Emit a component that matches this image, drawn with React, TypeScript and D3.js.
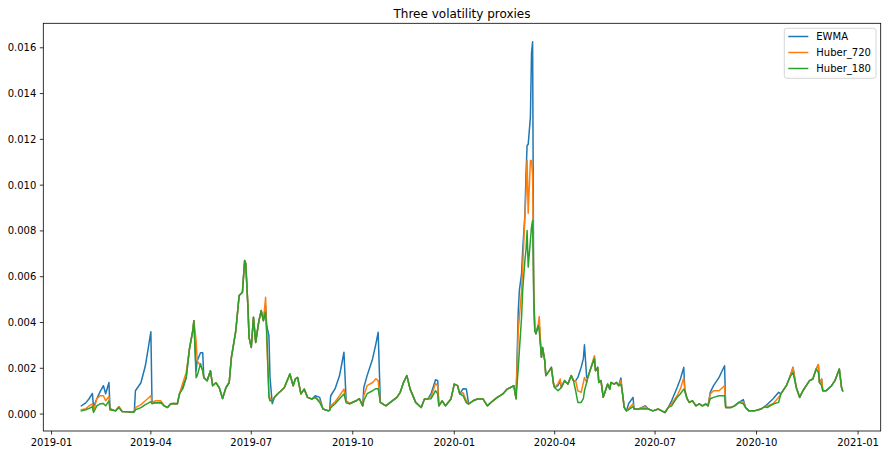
import React from "react";
import * as d3 from "d3";

const dates = [
  "2019-01-28","2019-02-01","2019-02-04","2019-02-07","2019-02-08","2019-02-11","2019-02-14","2019-02-17","2019-02-19","2019-02-22",
  "2019-02-23","2019-02-28","2019-03-03","2019-03-06","2019-03-11","2019-03-15","2019-03-17","2019-03-18","2019-03-23","2019-03-27",
  "2019-03-30","2019-04-01","2019-04-02","2019-04-05","2019-04-10","2019-04-13","2019-04-16","2019-04-19","2019-04-22","2019-04-25",
  "2019-04-27","2019-04-30","2019-05-03","2019-05-06","2019-05-09","2019-05-10","2019-05-12","2019-05-13","2019-05-16","2019-05-18",
  "2019-05-19","2019-05-22","2019-05-25","2019-05-27","2019-05-30","2019-06-02","2019-06-05","2019-06-08","2019-06-11","2019-06-13",
  "2019-06-17","2019-06-20","2019-06-23","2019-06-25","2019-06-26","2019-06-28","2019-06-29","2019-07-01","2019-07-03","2019-07-05",
  "2019-07-07","2019-07-08","2019-07-10","2019-07-12","2019-07-14","2019-07-15","2019-07-17","2019-07-18","2019-07-20","2019-07-22",
  "2019-07-25","2019-07-28","2019-07-31","2019-08-05","2019-08-08","2019-08-10","2019-08-12","2019-08-15","2019-08-18","2019-08-21",
  "2019-08-25","2019-08-28","2019-09-01","2019-09-04","2019-09-09","2019-09-10","2019-09-11","2019-09-15","2019-09-19","2019-09-23",
  "2019-09-25","2019-09-28","2019-10-04","2019-10-07","2019-10-10","2019-10-11","2019-10-14","2019-10-19","2019-10-22","2019-10-24",
  "2019-10-26","2019-10-31","2019-11-04","2019-11-10","2019-11-13","2019-11-16","2019-11-19","2019-11-22","2019-11-27","2019-12-02",
  "2019-12-05","2019-12-08","2019-12-11","2019-12-15","2019-12-17","2019-12-18","2019-12-21","2019-12-24","2019-12-29","2020-01-01",
  "2020-01-04","2020-01-06","2020-01-09","2020-01-12","2020-01-14","2020-01-18","2020-01-22","2020-01-27","2020-01-31","2020-02-05",
  "2020-02-09","2020-02-14","2020-02-18","2020-02-21","2020-02-24","2020-02-26","2020-02-28","2020-02-29","2020-03-02","2020-03-03",
  "2020-03-05","2020-03-06","2020-03-07","2020-03-08","2020-03-10","2020-03-11","2020-03-12","2020-03-13","2020-03-14","2020-03-15",
  "2020-03-17","2020-03-18","2020-03-20","2020-03-21","2020-03-23","2020-03-24","2020-03-27","2020-03-29","2020-03-31","2020-04-01",
  "2020-04-04","2020-04-06","2020-04-07","2020-04-10","2020-04-13","2020-04-16","2020-04-18","2020-04-20","2020-04-22","2020-04-25",
  "2020-04-27","2020-04-28","2020-04-30","2020-05-01","2020-05-04","2020-05-07","2020-05-08","2020-05-10","2020-05-11","2020-05-13",
  "2020-05-15","2020-05-16","2020-05-19","2020-05-21","2020-05-22","2020-05-25","2020-05-27","2020-05-29","2020-05-31","2020-06-01",
  "2020-06-03","2020-06-05","2020-06-07","2020-06-11","2020-06-12","2020-06-16","2020-06-22","2020-06-25","2020-06-29","2020-07-04",
  "2020-07-07","2020-07-10","2020-07-13","2020-07-16","2020-07-21","2020-07-24","2020-07-27","2020-07-28","2020-07-30","2020-08-01",
  "2020-08-04","2020-08-07","2020-08-10","2020-08-13","2020-08-16","2020-08-18","2020-08-20","2020-08-23","2020-08-28","2020-09-02",
  "2020-09-03","2020-09-08","2020-09-11","2020-09-15","2020-09-19","2020-09-21","2020-09-24","2020-09-29","2020-10-05","2020-10-08",
  "2020-10-11","2020-10-16","2020-10-21","2020-10-23","2020-10-28","2020-10-31","2020-11-03","2020-11-06","2020-11-09","2020-11-12",
  "2020-11-15","2020-11-18","2020-11-21","2020-11-24","2020-11-26","2020-11-27","2020-11-29","2020-11-30","2020-12-03","2020-12-08",
  "2020-12-11","2020-12-15","2020-12-17","2020-12-18",
];

const ewma = [
  3.6e-4,4.9e-4,6.7e-4,9.0e-4,3.2e-4,6.7e-4,9.8e-4,12.4e-4,8.9e-4,13.8e-4,
  2.3e-4,1.4e-4,3.2e-4,1.1e-4,1.0e-4,0.8e-4,1.0e-4,10.2e-4,13.7e-4,21.1e-4,
  29.9e-4,36.0e-4,5.8e-4,4.9e-4,5.1e-4,3.6e-4,2.9e-4,4.5e-4,4.6e-4,4.5e-4,
  8.9e-4,12.4e-4,15.9e-4,28.6e-4,36.5e-4,40.8e-4,18.9e-4,23.3e-4,26.8e-4,26.8e-4,
  15.9e-4,14.6e-4,18.9e-4,12.4e-4,13.7e-4,11.5e-4,6.8e-4,11.5e-4,13.8e-4,24.8e-4,
  36.5e-4,51.8e-4,53.2e-4,67.1e-4,65.8e-4,46.6e-4,33.5e-4,29.1e-4,42.3e-4,31.3e-4,
  37.9e-4,40.8e-4,45.2e-4,40.8e-4,47.4e-4,38.6e-4,34.3e-4,16.0e-4,4.5e-4,7.3e-4,
  8.9e-4,10.2e-4,11.6e-4,17.5e-4,12.4e-4,15.4e-4,16.0e-4,8.8e-4,10.9e-4,7.3e-4,
  6.6e-4,8.0e-4,7.3e-4,2.2e-4,1.4e-4,1.7e-4,8.0e-4,11.1e-4,16.8e-4,27.0e-4,
  5.8e-4,4.5e-4,5.8e-4,6.7e-4,3.6e-4,11.6e-4,16.8e-4,24.2e-4,30.8e-4,35.7e-4,
  5.1e-4,3.6e-4,5.1e-4,7.3e-4,9.5e-4,13.8e-4,16.8e-4,10.9e-4,5.1e-4,2.9e-4,
  6.6e-4,6.6e-4,8.9e-4,15.0e-4,14.6e-4,3.6e-4,5.8e-4,3.6e-4,6.6e-4,13.1e-4,
  12.4e-4,8.8e-4,11.1e-4,10.9e-4,4.4e-4,5.8e-4,6.6e-4,6.6e-4,3.6e-4,5.8e-4,
  7.3e-4,8.8e-4,10.9e-4,11.6e-4,12.4e-4,6.7e-4,45.2e-4,54.0e-4,61.4e-4,71.5e-4,
  86.8e-4,104.3e-4,117.4e-4,117.8e-4,129.7e-4,157.7e-4,162.6e-4,49.6e-4,36.5e-4,35.1e-4,
  38.6e-4,38.6e-4,24.8e-4,29.1e-4,23.3e-4,16.8e-4,18.9e-4,20.4e-4,13.1e-4,11.6e-4,
  12.4e-4,14.6e-4,11.6e-4,14.6e-4,13.1e-4,16.8e-4,14.6e-4,14.6e-4,16.0e-4,20.4e-4,
  24.2e-4,30.3e-4,16.0e-4,16.0e-4,20.4e-4,24.8e-4,18.9e-4,20.4e-4,13.8e-4,14.6e-4,
  7.3e-4,8.8e-4,13.1e-4,10.9e-4,13.8e-4,13.1e-4,13.8e-4,12.4e-4,15.8e-4,10.9e-4,
  2.9e-4,1.4e-4,4.5e-4,7.3e-4,2.2e-4,2.2e-4,3.6e-4,2.2e-4,1.4e-4,2.2e-4,
  1.4e-4,0.7e-4,2.9e-4,5.8e-4,11.6e-4,15.4e-4,20.4e-4,10.2e-4,6.7e-4,5.1e-4,
  5.8e-4,3.6e-4,4.5e-4,3.6e-4,4.4e-4,3.6e-4,9.5e-4,12.4e-4,16.0e-4,21.1e-4,
  2.9e-4,2.9e-4,3.6e-4,5.1e-4,6.3e-4,2.9e-4,1.4e-4,1.4e-4,2.2e-4,3.2e-4,
  4.4e-4,6.7e-4,9.5e-4,8.8e-4,12.4e-4,16.0e-4,20.4e-4,11.6e-4,7.3e-4,10.2e-4,
  12.4e-4,14.6e-4,15.3e-4,19.7e-4,21.6e-4,13.8e-4,15.3e-4,10.2e-4,10.2e-4,12.4e-4,
  14.6e-4,19.7e-4,11.6e-4,10.2e-4,
];

const huber720 = [
  1.9e-4,2.3e-4,3.6e-4,4.5e-4,1.4e-4,6.7e-4,8.0e-4,8.0e-4,5.8e-4,7.7e-4,
  1.9e-4,1.4e-4,3.2e-4,1.1e-4,1.0e-4,0.8e-4,1.4e-4,2.8e-4,4.1e-4,5.8e-4,
  7.1e-4,8.0e-4,4.9e-4,5.8e-4,5.8e-4,3.6e-4,2.9e-4,4.5e-4,4.6e-4,4.5e-4,
  8.9e-4,13.7e-4,18.1e-4,28.6e-4,36.5e-4,40.8e-4,32.1e-4,23.3e-4,21.1e-4,18.9e-4,
  15.9e-4,14.6e-4,18.9e-4,12.4e-4,13.7e-4,11.5e-4,6.8e-4,11.5e-4,13.8e-4,24.8e-4,
  36.5e-4,51.8e-4,53.2e-4,67.1e-4,65.8e-4,46.6e-4,33.5e-4,29.1e-4,42.3e-4,31.3e-4,
  37.9e-4,40.8e-4,45.2e-4,40.8e-4,51.0e-4,32.1e-4,8.9e-4,6.7e-4,5.8e-4,7.3e-4,
  8.9e-4,10.2e-4,11.6e-4,17.5e-4,12.4e-4,15.4e-4,16.0e-4,8.8e-4,10.9e-4,7.3e-4,
  6.6e-4,7.3e-4,5.8e-4,2.2e-4,1.4e-4,1.7e-4,3.6e-4,5.4e-4,8.0e-4,10.9e-4,
  5.8e-4,4.5e-4,5.8e-4,6.7e-4,3.6e-4,8.0e-4,12.4e-4,13.8e-4,15.4e-4,14.6e-4,
  5.1e-4,3.6e-4,5.1e-4,7.3e-4,9.5e-4,13.8e-4,16.8e-4,10.9e-4,5.1e-4,2.9e-4,
  6.6e-4,6.6e-4,7.6e-4,13.3e-4,12.4e-4,3.6e-4,5.8e-4,3.6e-4,6.6e-4,13.1e-4,
  12.4e-4,8.8e-4,9.3e-4,5.8e-4,4.4e-4,5.8e-4,6.6e-4,6.6e-4,3.6e-4,5.8e-4,
  7.3e-4,8.8e-4,10.9e-4,11.6e-4,12.4e-4,6.7e-4,36.5e-4,42.3e-4,54.0e-4,64.2e-4,
  86.0e-4,96.4e-4,110.8e-4,87.7e-4,110.8e-4,110.8e-4,104.3e-4,54.0e-4,36.5e-4,35.1e-4,
  38.6e-4,42.6e-4,24.8e-4,29.1e-4,23.3e-4,16.8e-4,18.9e-4,20.4e-4,13.1e-4,11.6e-4,
  13.3e-4,15.3e-4,11.6e-4,14.6e-4,13.1e-4,16.8e-4,14.6e-4,14.6e-4,10.2e-4,9.5e-4,
  13.8e-4,16.0e-4,13.8e-4,16.0e-4,20.4e-4,25.5e-4,18.9e-4,20.4e-4,13.8e-4,14.6e-4,
  7.3e-4,8.8e-4,13.1e-4,10.9e-4,13.8e-4,13.1e-4,13.8e-4,12.4e-4,14.6e-4,10.9e-4,
  2.9e-4,1.4e-4,2.3e-4,4.5e-4,2.2e-4,2.2e-4,3.2e-4,2.2e-4,1.4e-4,2.2e-4,
  1.4e-4,0.7e-4,2.9e-4,4.5e-4,8.0e-4,11.1e-4,15.8e-4,10.2e-4,6.7e-4,5.1e-4,
  5.8e-4,3.6e-4,4.5e-4,3.6e-4,4.4e-4,3.6e-4,8.8e-4,10.2e-4,10.2e-4,12.4e-4,
  2.9e-4,2.9e-4,3.6e-4,5.1e-4,5.4e-4,2.9e-4,1.4e-4,1.4e-4,2.2e-4,3.2e-4,
  3.6e-4,4.5e-4,7.3e-4,8.8e-4,12.4e-4,16.0e-4,20.4e-4,11.6e-4,7.3e-4,10.2e-4,
  12.4e-4,14.6e-4,15.3e-4,19.7e-4,21.6e-4,13.8e-4,15.3e-4,10.2e-4,10.2e-4,12.4e-4,
  14.6e-4,19.7e-4,11.6e-4,10.2e-4,
];

const huber180 = [
  1.4e-4,1.9e-4,2.5e-4,3.2e-4,0.7e-4,3.6e-4,4.5e-4,4.6e-4,3.6e-4,5.8e-4,
  1.9e-4,1.4e-4,2.9e-4,1.1e-4,1.0e-4,0.8e-4,1.0e-4,1.9e-4,2.8e-4,4.1e-4,
  4.9e-4,5.4e-4,4.5e-4,4.9e-4,5.1e-4,3.6e-4,2.9e-4,4.5e-4,4.6e-4,4.5e-4,
  8.9e-4,11.1e-4,15.9e-4,28.6e-4,36.5e-4,40.8e-4,15.9e-4,16.8e-4,22.0e-4,18.9e-4,
  15.9e-4,14.6e-4,18.9e-4,12.4e-4,13.7e-4,11.5e-4,6.8e-4,11.5e-4,13.8e-4,24.8e-4,
  36.5e-4,51.8e-4,53.2e-4,67.1e-4,65.8e-4,46.6e-4,33.5e-4,29.1e-4,42.3e-4,31.3e-4,
  37.9e-4,40.8e-4,45.2e-4,40.8e-4,44.5e-4,36.5e-4,7.3e-4,5.8e-4,5.8e-4,7.3e-4,
  8.9e-4,10.2e-4,11.6e-4,17.5e-4,12.4e-4,15.4e-4,16.0e-4,8.8e-4,10.9e-4,7.3e-4,
  6.6e-4,7.3e-4,5.1e-4,2.2e-4,1.4e-4,1.7e-4,2.8e-4,4.5e-4,6.7e-4,8.8e-4,
  4.9e-4,4.5e-4,5.8e-4,6.7e-4,3.6e-4,5.8e-4,8.9e-4,10.2e-4,11.1e-4,11.1e-4,
  5.1e-4,3.6e-4,5.1e-4,7.3e-4,9.5e-4,13.8e-4,16.8e-4,10.9e-4,5.1e-4,2.9e-4,
  6.6e-4,6.6e-4,6.7e-4,10.2e-4,8.8e-4,3.6e-4,5.8e-4,3.6e-4,6.6e-4,13.1e-4,
  12.4e-4,8.8e-4,8.0e-4,4.9e-4,4.4e-4,5.8e-4,6.6e-4,6.6e-4,3.6e-4,5.8e-4,
  7.3e-4,8.8e-4,10.9e-4,11.6e-4,12.4e-4,6.7e-4,20.4e-4,27.7e-4,42.3e-4,54.0e-4,
  67.1e-4,71.5e-4,80.2e-4,64.2e-4,75.8e-4,81.7e-4,84.6e-4,54.0e-4,36.5e-4,35.1e-4,
  38.6e-4,36.5e-4,24.8e-4,29.1e-4,23.3e-4,16.8e-4,18.9e-4,20.4e-4,13.1e-4,11.6e-4,
  10.2e-4,11.1e-4,11.6e-4,14.6e-4,13.1e-4,16.8e-4,14.6e-4,10.2e-4,5.1e-4,5.1e-4,
  6.7e-4,10.2e-4,13.8e-4,16.0e-4,20.4e-4,24.2e-4,18.9e-4,20.4e-4,13.8e-4,14.6e-4,
  7.3e-4,8.8e-4,13.1e-4,10.9e-4,13.8e-4,13.1e-4,13.8e-4,12.4e-4,13.1e-4,10.9e-4,
  2.9e-4,1.4e-4,1.9e-4,3.2e-4,2.2e-4,2.2e-4,2.3e-4,2.2e-4,1.4e-4,2.2e-4,
  1.4e-4,0.7e-4,2.9e-4,3.6e-4,7.3e-4,8.9e-4,10.9e-4,10.2e-4,6.7e-4,5.1e-4,
  5.8e-4,3.6e-4,4.5e-4,3.6e-4,4.4e-4,3.6e-4,6.7e-4,7.3e-4,8.0e-4,8.0e-4,
  2.9e-4,2.9e-4,3.6e-4,5.1e-4,4.5e-4,2.9e-4,1.4e-4,1.4e-4,2.2e-4,3.2e-4,
  2.9e-4,4.4e-4,5.1e-4,8.8e-4,12.4e-4,16.0e-4,18.2e-4,11.6e-4,7.3e-4,10.2e-4,
  12.4e-4,14.6e-4,15.3e-4,19.7e-4,18.2e-4,13.8e-4,12.4e-4,10.2e-4,10.2e-4,12.4e-4,
  14.6e-4,19.7e-4,11.6e-4,10.2e-4,
];

const seriesNames = ["EWMA", "Huber_720", "Huber_180"];
const seriesColors = ["#1f77b4", "#ff7f0e", "#2ca02c"];
const yTickValues = [0, 0.002, 0.004, 0.006, 0.008, 0.01, 0.012, 0.014, 0.016];
const xTickLabels = ["2019-01", "2019-04", "2019-07", "2019-10", "2020-01", "2020-04", "2020-07", "2020-10", "2021-01"];
const title = "Three volatility proxies";

const W = 887;
const H = 455;
const AX = { left: 43.3, right: 880.7, top: 23.3, bottom: 431 };
const FONT = "DejaVu Sans, sans-serif";

export default function App() {
  const parseDay = d3.timeParse("%Y-%m-%d");
  const parseMonth = d3.timeParse("%Y-%m");
  const xs = dates.map((d) => parseDay(d) as Date);
  const [x0, x1] = d3.extent(xs) as [Date, Date];
  const span = +x1 - +x0;
  const x = d3
    .scaleTime()
    .domain([new Date(+x0 - 0.05 * span), new Date(+x1 + 0.05 * span)])
    .range([AX.left, AX.right]);

  const all = [...ewma, ...huber720, ...huber180];
  const yMin = d3.min(all) as number;
  const yMax = d3.max(all) as number;
  const pad = 0.05 * (yMax - yMin);
  const y = d3.scaleLinear().domain([yMin - pad, yMax + pad]).range([AX.bottom, AX.top]);

  const series = [ewma, huber720, huber180];
  const line = d3
    .line<number>()
    .x((_, i) => x(xs[i]))
    .y((v) => y(v));

  const fmt = d3.format(".3f");
  const legendX = 784.3;
  const legendY = 28.3;

  return (
    <svg
      width={W}
      height={H}
      style={{ position: "absolute", left: 0, top: 0, background: "#fff" }}
      fontFamily={FONT}
    >
      <rect x={0} y={0} width={W} height={H} fill="#fff" />
      <text x={(AX.left + AX.right) / 2} y={17.5} textAnchor="middle" fontSize={12} fill="#000">
        {title}
      </text>
      <defs>
        <clipPath id="plotclip">
          <rect x={AX.left} y={AX.top} width={AX.right - AX.left} height={AX.bottom - AX.top} />
        </clipPath>
      </defs>
      <g clipPath="url(#plotclip)">
        {series.map((s, k) => (
          <path
            key={k}
            d={line(s) || ""}
            fill="none"
            stroke={seriesColors[k]}
            strokeWidth={1.5}
            strokeLinejoin="round"
            strokeLinecap="square"
          />
        ))}
      </g>
      <rect
        x={AX.left}
        y={AX.top}
        width={AX.right - AX.left}
        height={AX.bottom - AX.top}
        fill="none"
        stroke="#000"
        strokeWidth={0.8}
      />
      {yTickValues.map((v) => (
        <g key={v}>
          <line x1={AX.left - 3.5} x2={AX.left} y1={y(v)} y2={y(v)} stroke="#000" strokeWidth={0.8} />
          <text x={AX.left - 7} y={y(v)} dy="0.35em" textAnchor="end" fontSize={10} fill="#000">
            {fmt(v)}
          </text>
        </g>
      ))}
      {xTickLabels.map((lab) => {
        const px = x(parseMonth(lab) as Date);
        return (
          <g key={lab}>
            <line x1={px} x2={px} y1={AX.bottom} y2={AX.bottom + 3.5} stroke="#000" strokeWidth={0.8} />
            <text x={px} y={AX.bottom + 7} dy="0.76em" textAnchor="middle" fontSize={10} fill="#000">
              {lab}
            </text>
          </g>
        );
      })}
      <g>
        <rect
          x={legendX}
          y={legendY}
          width={91.7}
          height={50}
          rx={2.5}
          fill="#fff"
          fillOpacity={0.8}
          stroke="#cccccc"
          strokeWidth={0.8}
        />
        {seriesNames.map((name, k) => {
          const ly = legendY + 8.2 + k * 16;
          return (
            <g key={name}>
              <line x1={legendX + 4} x2={legendX + 24} y1={ly} y2={ly} stroke={seriesColors[k]} strokeWidth={1.5} />
              <text x={legendX + 32} y={ly} dy="0.35em" fontSize={10} fill="#000">
                {name}
              </text>
            </g>
          );
        })}
      </g>
    </svg>
  );
}
